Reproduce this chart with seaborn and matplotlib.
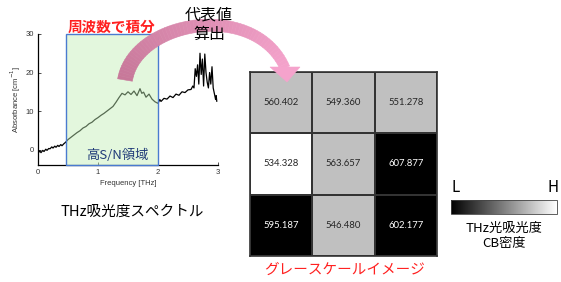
import numpy as np
import pandas as pd
import matplotlib
matplotlib.use("Agg")
import matplotlib.pyplot as plt
import seaborn as sns
from matplotlib.patches import Rectangle, Polygon
from matplotlib.colors import ListedColormap, BoundaryNorm
import matplotlib.cm as cm

# ---------------- data ----------------
freq = [0.00, 0.03, 0.05, 0.08, 0.10, 0.13, 0.15, 0.18, 0.20, 0.23, 0.25, 0.28, 0.30,
        0.33, 0.35, 0.38, 0.40, 0.43, 0.46, 0.50, 0.55, 0.60, 0.65, 0.70, 0.75, 0.80,
        0.85, 0.90, 0.95, 1.00, 1.05, 1.10, 1.15, 1.20, 1.25, 1.30, 1.35, 1.40, 1.45,
        1.50, 1.55, 1.60, 1.65, 1.70, 1.73, 1.76, 1.80, 1.85, 1.90, 1.95, 2.00, 2.03,
        2.05, 2.10, 2.15, 2.20, 2.25, 2.30, 2.35, 2.40, 2.45, 2.50, 2.55, 2.58, 2.60,
        2.62, 2.64, 2.66, 2.68, 2.70, 2.72, 2.74, 2.76, 2.78, 2.80, 2.82, 2.84, 2.86,
        2.88, 2.90, 2.92, 2.94, 2.96, 2.97, 2.98]
absorbance = [-1.0, -0.3, -0.8, -0.2, -0.5, 0.1, -0.2, 0.3, 0.2, 0.7, 0.4, 0.9, 0.6,
              1.1, 0.8, 1.3, 1.0, 1.5, 1.9, 2.6, 3.2, 3.8, 4.4, 4.9, 5.6, 6.0,
              6.7, 7.1, 7.8, 8.3, 8.9, 9.4, 10.0, 10.6, 11.2, 12.3, 13.5, 14.6, 14.2,
              15.0, 14.3, 15.2, 14.0, 15.8, 14.6, 14.9, 13.6, 14.4, 13.1, 12.4, 12.0, 13.0,
              12.5, 13.3, 13.1, 13.9, 13.5, 14.4, 14.1, 15.0, 14.8, 15.5, 15.6, 16.5, 16.0,
              21.0, 19.0, 22.0, 17.0, 25.0, 19.5, 23.5, 16.5, 24.8, 20.0, 17.5, 16.0, 20.0,
              17.0, 21.5, 16.0, 14.5, 13.0, 14.0, 12.5]
band_range = [0.47, 2.0]

grid_values = [[560.402, 549.360, 551.278],
               [534.328, 563.657, 607.877],
               [595.187, 546.480, 602.177]]
level_bounds = [520, 540, 590, 620]
level_colors = ["#ffffff", "#c0c0c0", "#000000"]

W, H = 561, 282
JP = ["Noto Sans CJK JP", "DejaVu Sans"]

sns.set_theme(style="white")
plt.rcParams["font.family"] = ["Liberation Sans", "Noto Sans CJK JP", "DejaVu Sans"]

fig = plt.figure(figsize=(W / 100, H / 100), dpi=100)

def fx(x):
    return x / W

def fy(y):
    return 1 - y / H

# ---------------- spectrum ----------------
ax = fig.add_axes([fx(38), fy(165), fx(218) - fx(38), fy(34) - fy(165)])
df = pd.DataFrame({"freq": freq, "abs": absorbance})
sns.lineplot(data=df, x="freq", y="abs", ax=ax, color="black", linewidth=0.9, zorder=2)
ax.set_xlim(0, 3)
ax.set_ylim(-4, 30)
ax.set_xticks([0, 1, 2, 3])
ax.set_yticks([0, 10, 20, 30])
ax.tick_params(axis="both", labelsize=5.5, direction="in", length=2.5, width=0.6, pad=3,
               left=True, bottom=True, colors="#333333")
for s in ["top", "right"]:
    ax.spines[s].set_visible(False)
for s in ["left", "bottom"]:
    ax.spines[s].set_color("black")
    ax.spines[s].set_linewidth(0.9)
ax.set_xlabel("Frequency [THz]", fontsize=5.5, labelpad=3, color="#333333")
ax.set_ylabel("Absorbance [cm$^{-1}$]", fontsize=5.5, labelpad=2, color="#333333")
ax.patch.set_alpha(0)

ax.add_patch(Rectangle((band_range[0], -4), band_range[1] - band_range[0], 34,
                       facecolor=(0.756, 0.933, 0.711), alpha=0.45, edgecolor="none",
                       zorder=3, clip_on=False))
ax.add_patch(Rectangle((band_range[0], -4), band_range[1] - band_range[0], 34,
                       facecolor="none", edgecolor="#4a7bd0", linewidth=1.0,
                       zorder=4, clip_on=False))

# ---------------- heatmap ----------------
hax = fig.add_axes([fx(250), fy(256), fx(437) - fx(250), fy(72) - fy(256)])
cmap = ListedColormap(level_colors)
norm = BoundaryNorm(level_bounds, cmap.N)
sns.heatmap(np.array(grid_values), ax=hax, cmap=cmap, norm=norm, annot=True, fmt=".3f",
            cbar=False, linewidths=1.2, linecolor="#333333",
            annot_kws={"fontsize": 6.8, "family": "Lato"},
            xticklabels=False, yticklabels=False)
for s in hax.spines.values():
    s.set_visible(True)
    s.set_color("#333333")
    s.set_linewidth(1.2)

# ---------------- L-H gradient ----------------
cax = fig.add_axes([fx(451), fy(214), fx(557) - fx(451), fy(200) - fy(214)])
sm = cm.ScalarMappable(cmap="gray", norm=plt.Normalize(0, 1))
cb = fig.colorbar(sm, cax=cax, orientation="horizontal")
cb.set_ticks([])
cb.outline.set_linewidth(0.6)
cb.outline.set_edgecolor("#444444")

# ---------------- curved arrow ----------------
P0 = np.array([125.0, 80.0]); P1 = np.array([135.0, 20.0])
P2 = np.array([255.0, 0.0]); P3 = np.array([285.0, 68.0])
ts = np.linspace(0, 1, 61)
pts = np.array([(1 - t) ** 3 * P0 + 3 * (1 - t) ** 2 * t * P1 + 3 * (1 - t) * t ** 2 * P2 + t ** 3 * P3 for t in ts])
der = np.array([3 * (1 - t) ** 2 * (P1 - P0) + 6 * (1 - t) * t * (P2 - P1) + 3 * t ** 2 * (P3 - P2) for t in ts])
nrm = np.stack([-der[:, 1], der[:, 0]], axis=1)
nrm /= np.linalg.norm(nrm, axis=1, keepdims=True)
widths = 15 - 5 * ts
left_edge = pts + nrm * (widths[:, None] / 2)
right_edge = pts - nrm * (widths[:, None] / 2)
c0 = np.array([0.78, 0.47, 0.60]); c1 = np.array([0.96, 0.64, 0.80])
for i in range(len(ts) - 1):
    quad = np.array([left_edge[i], left_edge[i + 1], right_edge[i + 1], right_edge[i]])
    col = c0 + (c1 - c0) * ts[i]
    fig.add_artist(Polygon(np.column_stack([quad[:, 0] / W, 1 - quad[:, 1] / H]),
                           closed=True, facecolor=col, edgecolor=col, linewidth=0.4,
                           transform=fig.transFigure, zorder=2))
head = np.array([[270, 67], [300, 67], [287, 82]], dtype=float)
fig.add_artist(Polygon(np.column_stack([head[:, 0] / W, 1 - head[:, 1] / H]), closed=True,
                       facecolor=c1, edgecolor=c1, linewidth=0.4,
                       transform=fig.transFigure, zorder=2))

# ---------------- texts ----------------
fig.text(fx(112), fy(27), "周波数で積分", color="#ff2020", fontsize=10.5, fontweight="bold",
         family=JP, ha="center", va="center", zorder=5)
fig.text(fx(209), fy(15), "代表値", color="black", fontsize=11.5, family=JP,
         ha="center", va="center", zorder=5)
fig.text(fx(209), fy(34), "算出", color="black", fontsize=11.5, family=JP,
         ha="center", va="center", zorder=5)
fig.text(fx(117), fy(155), "高S/N領域", color="#1f3a78", fontsize=9.5, family=JP,
         ha="center", va="center", zorder=5)
fig.text(fx(132), fy(212), "THz吸光度スペクトル", color="black", fontsize=10.5, family=JP,
         ha="center", va="center", zorder=5)
fig.text(fx(345), fy(270), "グレースケールイメージ", color="#ff2020", fontsize=10.5, family=JP,
         ha="center", va="center", zorder=5)
fig.text(fx(456), fy(188), "L", color="black", fontsize=11, family=JP,
         ha="center", va="center", zorder=5)
fig.text(fx(553), fy(188), "H", color="black", fontsize=11, family=JP,
         ha="center", va="center", zorder=5)
fig.text(fx(504), fy(228), "THz光吸光度", color="black", fontsize=9.5, family=JP,
         ha="center", va="center", zorder=5)
fig.text(fx(504), fy(244), "CB密度", color="black", fontsize=9.5, family=JP,
         ha="center", va="center", zorder=5)

fig.savefig("out.png", dpi=100)
